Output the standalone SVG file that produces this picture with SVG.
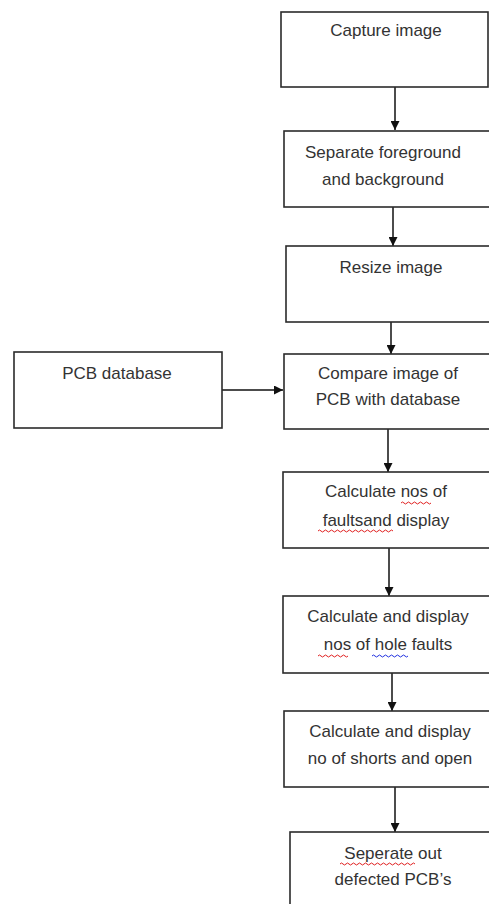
<svg xmlns="http://www.w3.org/2000/svg" width="489" height="904" viewBox="0 0 489 904">
<style>
.box{fill:#fff;stroke:#2b2b2b;stroke-width:1.6}
.t{font-family:"Liberation Sans",Arial,sans-serif;font-size:17px;fill:#333;text-anchor:middle}
.c{stroke:#111;stroke-width:1.5;fill:none}
.sq{fill:none;stroke-width:1}
</style>
<defs>
<marker id="ah" viewBox="0 0 10 10" refX="10" refY="5" markerWidth="10" markerHeight="9" markerUnits="userSpaceOnUse" orient="auto">
<path d="M0,0 L10,5 L0,10 z" fill="#111"/>
</marker>
</defs>
<rect width="489" height="904" fill="#fff"/>
<g id="connectors">
<line class="c" x1="395" y1="87" x2="395" y2="130" marker-end="url(#ah)"/>
<line class="c" x1="393" y1="207" x2="393" y2="246" marker-end="url(#ah)"/>
<line class="c" x1="391" y1="322" x2="391" y2="354" marker-end="url(#ah)"/>
<line class="c" x1="222" y1="390" x2="283" y2="390" marker-end="url(#ah)"/>
<line class="c" x1="388" y1="429" x2="388" y2="472" marker-end="url(#ah)"/>
<line class="c" x1="389" y1="548" x2="389" y2="596" marker-end="url(#ah)"/>
<line class="c" x1="392" y1="673" x2="392" y2="711" marker-end="url(#ah)"/>
<line class="c" x1="395" y1="787" x2="395" y2="832" marker-end="url(#ah)"/>
</g>
<g id="n1"><rect class="box" x="281" y="12" width="207" height="75"/><text class="t" x="386" y="36">Capture image</text></g>
<g id="n2"><rect class="box" x="284" y="131" width="210" height="76"/><text class="t" x="383" y="158">Separate foreground</text><text class="t" x="383" y="185">and background</text></g>
<g id="n3"><rect class="box" x="286" y="246" width="210" height="76"/><text class="t" x="391" y="273">Resize image</text></g>
<g id="n4"><rect class="box" x="284" y="354" width="210" height="75"/><text class="t" x="388" y="379">Compare image of</text><text class="t" x="388" y="405">PCB with database</text></g>
<g id="pcb"><rect class="box" x="14" y="352" width="208" height="76"/><text class="t" x="117" y="379">PCB database</text></g>
<g id="n5"><rect class="box" x="283" y="472" width="210" height="76"/><text class="t" x="386" y="497">Calculate nos of</text><text class="t" x="386" y="526">faultsand display</text>
<path class="sq" stroke="#e02020" d="M401,503 q1.5,-2 3,0 t3,0 t3,0 t3,0 t3,0 t3,0 t3,0 t3,0 t3,0 t3,0"/>
<path class="sq" stroke="#e02020" d="M318,531 q1.5,-2 3,0 t3,0 t3,0 t3,0 t3,0 t3,0 t3,0 t3,0 t3,0 t3,0 t3,0 t3,0 t3,0 t3,0 t3,0 t3,0 t3,0 t3,0 t3,0 t3,0 t3,0 t3,0 t3,0 t3,0 t3,0"/></g>
<g id="n6"><rect class="box" x="283" y="596" width="210" height="77"/><text class="t" x="388" y="622">Calculate and display</text><text class="t" x="388" y="650">nos of hole faults</text>
<path class="sq" stroke="#e02020" d="M318,656 q1.5,-2 3,0 t3,0 t3,0 t3,0 t3,0 t3,0 t3,0 t3,0 t3,0 t3,0"/>
<path class="sq" stroke="#2030e0" d="M372,656 q1.5,-2 3,0 t3,0 t3,0 t3,0 t3,0 t3,0 t3,0 t3,0 t3,0 t3,0 t3,0 t3,0"/></g>
<g id="n7"><rect class="box" x="284" y="711" width="210" height="76"/><text class="t" x="390" y="737">Calculate and display</text><text class="t" x="390" y="764">no of shorts and open</text></g>
<g id="n8"><rect class="box" x="290" y="832" width="210" height="80"/><text class="t" x="393" y="859">Seperate out</text><text class="t" x="393" y="885">defected PCB’s</text>
<path class="sq" stroke="#e02020" d="M340,864 q1.5,-2 3,0 t3,0 t3,0 t3,0 t3,0 t3,0 t3,0 t3,0 t3,0 t3,0 t3,0 t3,0 t3,0 t3,0 t3,0 t3,0 t3,0 t3,0 t3,0 t3,0 t3,0 t3,0 t3,0 t3,0 t3,0"/></g>
</svg>
